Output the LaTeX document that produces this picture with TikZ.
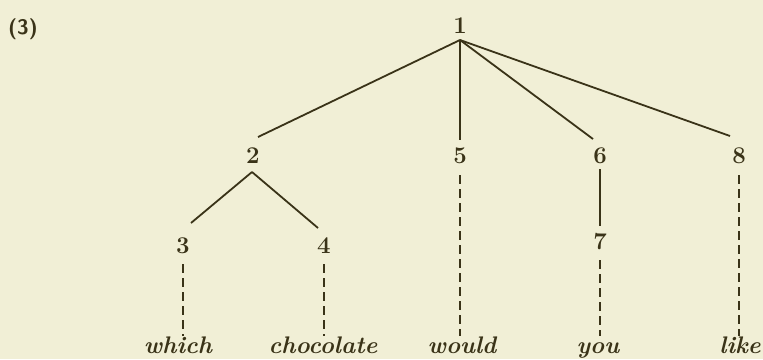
\documentclass[tikz,border=0pt]{standalone}
\usepackage{fontspec}
\definecolor{paper}{HTML}{F1EFD6}
\definecolor{ink}{HTML}{3A3318}
\begin{document}
\begin{tikzpicture}[x=1pt,y=-1pt,
  num/.style={inner sep=0pt,text=ink,anchor=base,font=\fontsize{24}{26}\selectfont\bfseries},
  word/.style={inner sep=0pt,text=ink,font=\fontsize{24}{26}\selectfont\bfseries\itshape,anchor=base},
  edge/.style={draw=ink,line width=1.8pt},
  dashedge/.style={draw=ink,line width=1.8pt,dash pattern=on 9pt off 5pt}]
\fill[paper] (0,0) rectangle (763,359);
\useasboundingbox (0,0) rectangle (763,359);
\node[inner sep=0pt,text=ink,font=\fontsize{21}{24}\selectfont\sffamily\bfseries] (lab) at (23,29) {(3)};
\node[num] (n1) at (460,33) {1};
\node[num] (n2) at (253,163) {2};
\node[num] (n3) at (183,253) {3};
\node[num] (n4) at (324,253) {4};
\node[num] (n5) at (460,163) {5};
\node[num] (n6) at (600,163) {6};
\node[num] (n7) at (600,249) {7};
\node[num] (n8) at (739,163) {8};
\node[word] (w1) at (178,353) {which};
\node[word] (w2) at (323,353) {chocolate};
\node[word] (w3) at (462,353) {would};
\node[word] (w4) at (598,353) {you};
\node[word] (w5) at (740,353) {like};
\coordinate (top1) at (460,40);
\coordinate (e2) at (258,137);
\coordinate (e6) at (593,139);
\coordinate (e8) at (730,136);
\coordinate (b2) at (252,172);
\coordinate (e3) at (191,223);
\coordinate (e4) at (318,228);
\draw[edge] (top1) -- (e2);
\draw[edge] (top1) -- (n5 |- 0,140);
\draw[edge] (top1) -- (e6);
\draw[edge] (top1) -- (e8);
\draw[edge] (b2) -- (e3);
\draw[edge] (b2) -- (e4);
\draw[edge] (n6 |- 0,169) -- (n7 |- 0,226);
\draw[dashedge] (n3 |- 0,264) -- (n3 |- 0,336);
\draw[dashedge] (n4 |- 0,264) -- (n4 |- 0,336);
\draw[dashedge] (n5 |- 0,175) -- (n5 |- 0,336);
\draw[dashedge] (n7 |- 0,260) -- (n7 |- 0,336);
\draw[dashedge] (n8 |- 0,175) -- (n8 |- 0,336);
\end{tikzpicture}
\end{document}
